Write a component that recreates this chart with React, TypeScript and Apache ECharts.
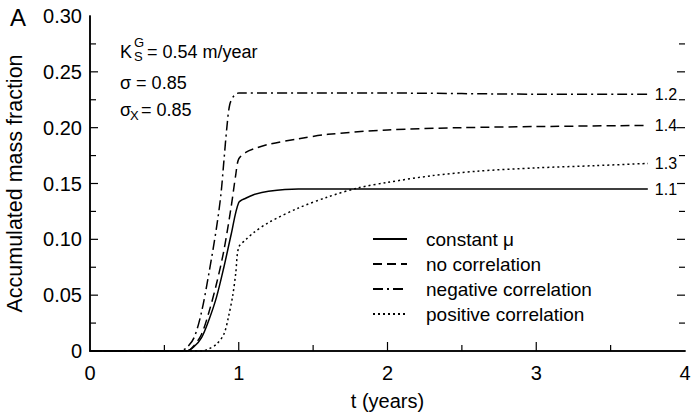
import React, { useEffect, useRef } from "react";
import * as echarts from "echarts";

const seriesNames = ["constant μ", "no correlation", "negative correlation", "positive correlation"];
const endLabels = ["1.1", "1.4", "1.2", "1.3"];

const constantMu: [number, number][] = [
  [0, 0], [0.65, 0], [0.7, 0.004], [0.75, 0.012], [0.8, 0.028], [0.85, 0.048], [0.9, 0.075],
  [0.95, 0.105], [1.0, 0.133], [1.05, 0.137], [1.1, 0.14], [1.2, 0.143], [1.4, 0.145], [1.6, 0.145], [3.75, 0.145],
];
const noCorrelation: [number, number][] = [
  [0, 0], [0.65, 0], [0.7, 0.005], [0.75, 0.015], [0.8, 0.035], [0.85, 0.06], [0.9, 0.09],
  [0.95, 0.13], [0.98, 0.158], [1.0, 0.172], [1.05, 0.178], [1.1, 0.181], [1.2, 0.185], [1.4, 0.19],
  [1.6, 0.194], [2.0, 0.198], [2.5, 0.2], [3.0, 0.201], [3.75, 0.202],
];
const negativeCorrelation: [number, number][] = [
  [0, 0], [0.6, 0], [0.65, 0.003], [0.7, 0.012], [0.75, 0.035], [0.8, 0.07], [0.85, 0.11],
  [0.88, 0.14], [0.9, 0.17], [0.92, 0.2], [0.94, 0.221], [0.97, 0.229], [1.0, 0.231], [1.5, 0.231],
  [2.0, 0.231], [3.0, 0.23], [3.75, 0.23],
];
const positiveCorrelation: [number, number][] = [
  [0, 0], [0.75, 0], [0.8, 0.002], [0.85, 0.006], [0.9, 0.015], [0.93, 0.03], [0.96, 0.05],
  [0.98, 0.07], [1.0, 0.093], [1.05, 0.1], [1.1, 0.106], [1.2, 0.115], [1.4, 0.128], [1.6, 0.138],
  [1.8, 0.146], [2.0, 0.151], [2.3, 0.157], [2.6, 0.161], [3.0, 0.164], [3.4, 0.166], [3.75, 0.168],
];
const allData = [constantMu, noCorrelation, negativeCorrelation, positiveCorrelation];
const dashTypes: any[] = ["solid", [9, 5], [10, 4, 2, 4], [2, 3]];

// tick positions (value, kind: 1 = major, 0 = minor)
const xTicks: [number, number][] = [[0.5, 0], [1, 1], [1.5, 0], [2, 1], [2.5, 0], [3, 1], [3.5, 0]];
const yTicks: [number, number][] = [
  [0.025, 0], [0.05, 1], [0.075, 0], [0.1, 1], [0.125, 0], [0.15, 1], [0.175, 0],
  [0.2, 1], [0.225, 0], [0.25, 1], [0.275, 0],
];

const FONT = "Liberation Sans, Arial, sans-serif";

export default function App() {
  const ref = useRef<HTMLDivElement>(null);
  useEffect(() => {
    if (!ref.current) return;
    document.body.style.margin = "0";
    const chart = echarts.init(ref.current, null, { renderer: "svg" });
    const tickLine = { stroke: "#000", lineWidth: 1.2 };
    chart.setOption({
      animation: false,
      backgroundColor: "#fff",
      textStyle: { fontFamily: FONT, color: "#000" },
      grid: { left: 90, right: 9, top: 16, bottom: 69, containLabel: false, outerBoundsMode: "none" },
      xAxis: [
        {
          type: "value", min: 0, max: 4, interval: 1, position: "bottom",
          name: "t (years)", nameLocation: "middle", nameGap: 40,
          nameTextStyle: { fontSize: 20, color: "#000", fontFamily: FONT },
          axisLine: { show: true, lineStyle: { color: "#000", width: 1.5 } },
          splitLine: { show: false },
          axisTick: { show: false },
          minorTick: { show: false },
          axisLabel: { fontSize: 20, color: "#000", margin: 12, fontFamily: FONT },
        },
        {
          type: "value", min: 0, max: 4, interval: 1, position: "top",
          axisLine: { show: true, lineStyle: { color: "#000", width: 1.5 } },
          splitLine: { show: false },
          axisTick: { show: false }, axisLabel: { show: false },
        },
      ],
      yAxis: [
        {
          type: "value", min: 0, max: 0.3, interval: 0.05, position: "left",
          name: "Accumulated mass fraction", nameLocation: "middle", nameGap: 64,
          nameTextStyle: { fontSize: 21.5, color: "#000", fontFamily: FONT },
          axisLine: { show: true, lineStyle: { color: "#000", width: 1.5 } },
          splitLine: { show: false },
          axisTick: { show: false },
          minorTick: { show: false },
          axisLabel: {
            fontSize: 20, color: "#000", margin: 8, fontFamily: FONT,
            formatter: (v: number) => (v === 0 ? "0" : v.toFixed(2)),
          },
        },
        {
          type: "value", min: 0, max: 0.3, interval: 0.05, position: "right",
          axisLine: { show: true, lineStyle: { color: "#000", width: 1.5 } },
          splitLine: { show: false },
          axisTick: { show: false },
          axisLabel: { show: false },
        },
      ],
      legend: {
        show: true,
        orient: "vertical",
        left: 367,
        top: 224,
        itemWidth: 34,
        itemHeight: 14,
        itemGap: 5,
        data: seriesNames,
        itemStyle: { opacity: 0 },
        textStyle: { fontSize: 19, lineHeight: 20, color: "#000", fontFamily: FONT, padding: [0, 0, 0, 14] },
      },
      series: [
        ...seriesNames.map((name, i) => ({
          name,
          type: "line",
          data: allData[i],
          symbol: "none",
          smooth: 0.3,
          lineStyle: { color: "#000", width: 1.5, type: dashTypes[i] },
          itemStyle: { color: "#000" },
          endLabel: {
            show: true,
            formatter: () => endLabels[i],
            fontSize: 16,
            color: "#000",
            fontFamily: FONT,
            distance: 7,
          },
        })),
        {
          type: "custom",
          name: "xticks",
          clip: false,
          silent: true,
          data: xTicks,
          renderItem: (params: any, api: any) => {
            const v = api.value(0);
            const major = api.value(1) === 1;
            const p = api.coord([v, 0]);
            const len = major ? 9 : 6;
            return {
              type: "line",
              shape: { x1: p[0], y1: p[1], x2: p[0], y2: p[1] - len },
              style: tickLine,
            };
          },
        },
        {
          type: "custom",
          name: "yticks",
          clip: false,
          silent: true,
          data: yTicks,
          renderItem: (params: any, api: any) => {
            const v = api.value(0);
            const major = api.value(1) === 1;
            const pl = api.coord([0, v]);
            const pr = api.coord([4, v]);
            const len = major ? 8 : 6;
            return {
              type: "group",
              children: [
                { type: "line", shape: { x1: pl[0], y1: pl[1], x2: pl[0] + len, y2: pl[1] }, style: tickLine },
                { type: "line", shape: { x1: pr[0], y1: pr[1], x2: pr[0] - len, y2: pr[1] }, style: tickLine },
              ],
            };
          },
        },
      ],
      graphic: [
        { type: "text", left: 10, top: 5, style: { text: "A", fontSize: 24, fill: "#000", fontFamily: FONT } },
        { type: "text", x: 120, y: 43, style: { text: "K", fontSize: 18, fill: "#000", fontFamily: FONT } },
        { type: "text", x: 134, y: 36, style: { text: "G", fontSize: 13, fill: "#000", fontFamily: FONT } },
        { type: "text", x: 134, y: 50, style: { text: "S", fontSize: 13, fill: "#000", fontFamily: FONT } },
        { type: "text", x: 147, y: 43, style: { text: "= 0.54 m/year", fontSize: 18, fill: "#000", fontFamily: FONT } },
        { type: "text", x: 120, y: 74, style: { text: "σ = 0.85", fontSize: 18, fill: "#000", fontFamily: FONT } },
        { type: "text", x: 120, y: 101, style: { text: "σ", fontSize: 18, fill: "#000", fontFamily: FONT } },
        { type: "text", x: 130, y: 109, style: { text: "X", fontSize: 13, fill: "#000", fontFamily: FONT } },
        { type: "text", x: 141, y: 101, style: { text: "= 0.85", fontSize: 18, fill: "#000", fontFamily: FONT } },
      ],
    });
    return () => chart.dispose();
  }, []);
  return <div ref={ref} style={{ width: 694, height: 420 }} />;
}
